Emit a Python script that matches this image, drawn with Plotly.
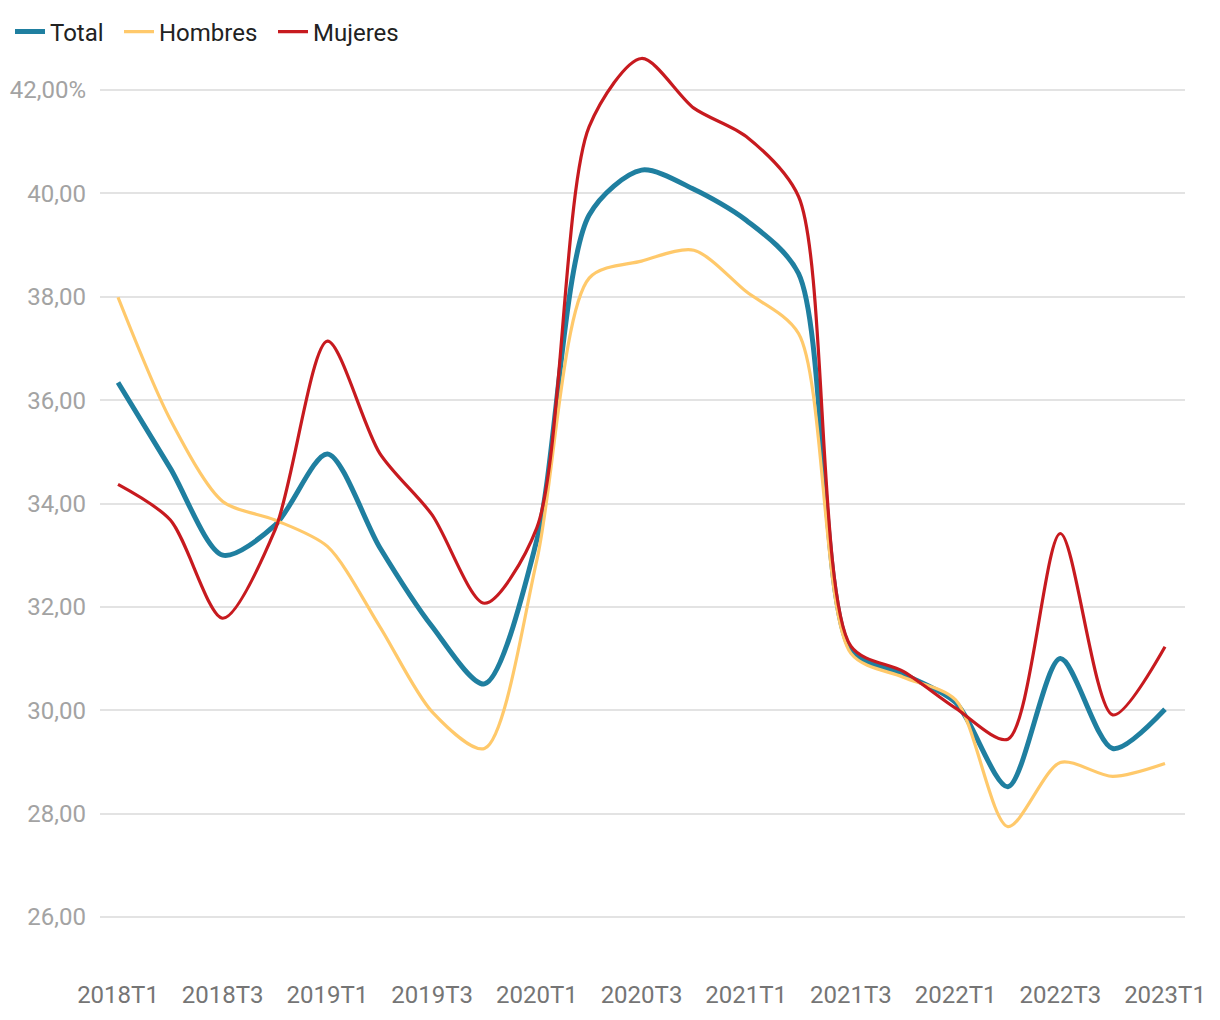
import plotly.graph_objects as go

quarters = ["2018T1", "2018T2", "2018T3", "2018T4",
            "2019T1", "2019T2", "2019T3", "2019T4",
            "2020T1", "2020T2", "2020T3", "2020T4",
            "2021T1", "2021T2", "2021T3", "2021T4",
            "2022T1", "2022T2", "2022T3", "2022T4",
            "2023T1"]

total = [36.34, 34.68, 33.00, 33.58, 34.96, 33.15, 31.62, 30.51, 33.29,
         39.58, 40.45, 40.08, 39.48, 38.45, 31.17, 30.70, 30.15, 28.52,
         31.00, 29.26, 30.02]
hombres = [37.99, 35.62, 34.04, 33.68, 33.17, 31.62, 29.97, 29.26, 32.90,
           38.36, 38.69, 38.90, 38.10, 37.29, 31.10, 30.64, 30.20, 27.75,
           28.99, 28.72, 28.97]
mujeres = [34.37, 33.68, 31.78, 33.49, 37.14, 34.97, 33.78, 32.07, 33.53,
           41.29, 42.61, 41.65, 41.10, 39.94, 31.24, 30.75, 30.04, 29.44,
           33.42, 29.91, 31.23]

ytick_vals = [26, 28, 30, 32, 34, 36, 38, 40, 42]
ytick_text = ["26,00", "28,00", "30,00", "32,00", "34,00", "36,00", "38,00", "40,00", "42,00%"]
xtick_vals = quarters[::2]

# name, values, colour, width, legend id, legend x (px)
series = [
    ("Total", total, "#1f7fa0", 5, "legend", 2),
    ("Hombres", hombres, "#ffc96b", 3.2, "legend2", 111),
    ("Mujeres", mujeres, "#c71a1f", 3.2, "legend3", 265),
]

W, H = 1220, 1020

fig = go.Figure()
legends = {}
for name, vals, color, w, lg, lx in series:
    fig.add_trace(go.Scatter(
        x=quarters, y=vals, name=name, mode="lines", legend=lg,
        line=dict(color=color, width=w, shape="spline", smoothing=0.8),
    ))
    legends[lg] = dict(
        orientation="h", xref="container", yref="container",
        x=lx / W, y=1 - 24 / H, xanchor="left", yanchor="middle",
        font=dict(family="Roboto", size=24, color="#222222"),
        bgcolor="rgba(0,0,0,0)", itemwidth=30,
    )

fig.update_layout(
    width=W, height=H,
    margin=dict(l=92, r=43, t=42, b=53, autoexpand=False),
    plot_bgcolor="white", paper_bgcolor="white",
    font=dict(family="Roboto", size=24, color="#222222"),
    showlegend=True,
    xaxis=dict(
        type="category", categoryorder="array", categoryarray=quarters,
        range=[-0.344, 20.382],
        tickmode="array", tickvals=xtick_vals, ticktext=xtick_vals,
        showgrid=False, zeroline=False, showline=False, ticks="",
        tickfont=dict(size=24, color="#757575"),
        ticklabelstandoff=3, automargin=False,
    ),
    yaxis=dict(
        range=[24.878, 42.774],
        tickmode="array", tickvals=ytick_vals, ticktext=ytick_text,
        showgrid=True, gridcolor="#e3e3e3", gridwidth=1.5,
        zeroline=False, showline=False, ticks="",
        tickfont=dict(size=24, color="#a3a3a3"),
        ticklabelstandoff=13, automargin=False,
    ),
    **legends,
)

fig.write_html("out.html")
